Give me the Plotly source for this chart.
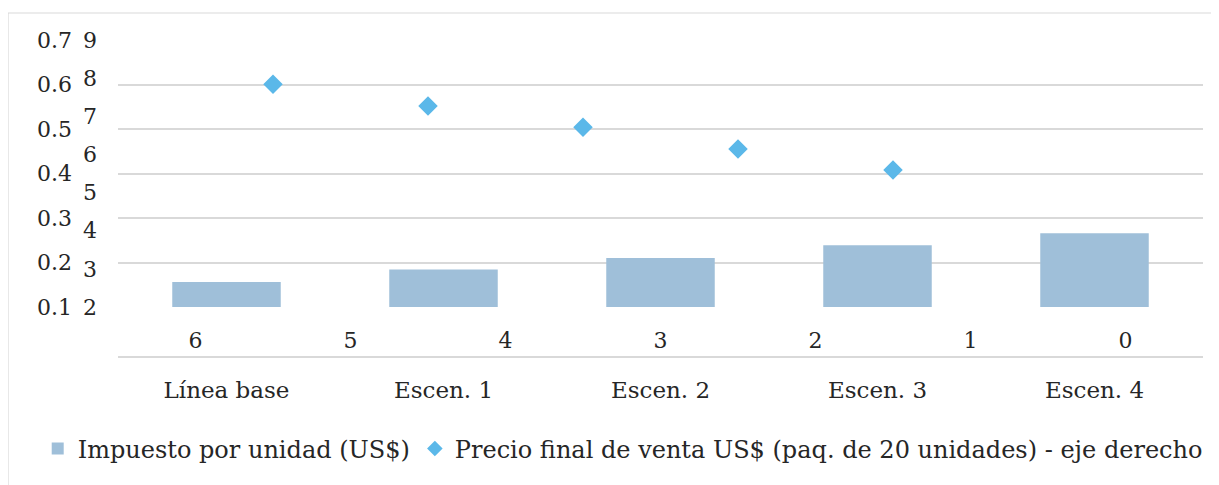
import plotly.graph_objects as go

categories = ["Línea base", "Escen. 1", "Escen. 2", "Escen. 3", "Escen. 4"]
impuesto = [0.156, 0.184, 0.210, 0.239, 0.266]
precio_x = [5.5, 4.5, 3.5, 2.5, 1.5]
precio = [7.84, 7.27, 6.71, 6.14, 5.59]
left_ticks = [0.1, 0.2, 0.3, 0.4, 0.5, 0.6, 0.7]
right_ticks = [2, 3, 4, 5, 6, 7, 8, 9]
sec_x_ticks = [0, 1, 2, 3, 4, 5, 6]

# page body has an 8px margin; figure is placed at (8, 8)
OFF = 8
W, H = 1219 - OFF, 485 - OFF
ML, MR, MT, MB = 118 - OFF, 16, 40 - OFF, 485 - 357
PH = H - MT - MB
FONT = "DejaVu Serif"
TXT = "#262626"
GRID = "#d9d9d9"

fig = go.Figure()
fig.add_trace(go.Bar(
    x=categories, y=impuesto, name="Impuesto por unidad (US$)",
    marker=dict(color="#9fbfd9", line=dict(width=0)),
    xaxis="x", yaxis="y",
))
fig.add_trace(go.Scatter(
    x=precio_x, y=precio, mode="markers",
    name="Precio final de venta US$ (paq. de 20 unidades) - eje derecho",
    marker=dict(symbol="diamond", size=15, color="#5bb8e9"),
    xaxis="x2", yaxis="y2",
))

ydom0 = 50 / PH

fig.update_layout(
    width=W, height=H,
    margin=dict(l=ML, r=MR, t=MT, b=MB),
    paper_bgcolor="white", plot_bgcolor="white",
    font=dict(family=FONT, size=23, color=TXT),
    bargap=0.5,
    showlegend=True,
    legend=dict(
        orientation="h", x=-0.074, y=-0.29, xanchor="left", yanchor="middle",
        font=dict(family=FONT, size=24, color=TXT),
        itemsizing="constant", bgcolor="rgba(0,0,0,0)",
        tracegroupgap=0,
    ),
    xaxis=dict(
        domain=[0, 1], anchor="free", position=0,
        showgrid=False, showline=True, linecolor=GRID, linewidth=1.5,
        ticks="", ticklabelstandoff=13, zeroline=False,
        tickfont=dict(family=FONT, size=23, color=TXT),
    ),
    xaxis2=dict(
        overlaying="x", anchor="y", side="bottom",
        range=[6.5, -0.5], tickvals=sec_x_ticks,
        showgrid=False, showline=False, zeroline=False,
        ticks="", ticklabelstandoff=18,
        tickfont=dict(family=FONT, size=22, color=TXT),
    ),
    yaxis=dict(
        domain=[ydom0, 1], range=[0.1, 0.7], tickvals=left_ticks,
        tickformat=".1f",
        showgrid=True, gridcolor=GRID, gridwidth=1.5,
        showline=False, zeroline=False, ticks="",
        ticklabelstandoff=45,
        tickfont=dict(family=FONT, size=22, color=TXT),
    ),
    yaxis2=dict(
        overlaying="y", side="left", anchor="x",
        range=[2, 9], tickvals=right_ticks,
        showgrid=False, showline=False, zeroline=False, ticks="",
        ticklabelstandoff=20,
        tickfont=dict(family=FONT, size=22, color=TXT),
    ),
)

# outer chart border (page pixel coordinates)
def px_x(px):
    return (px - OFF - ML) / (W - ML - MR)

def px_y(py):
    return (H - MB - (py - OFF)) / PH

fig.add_shape(type="rect", xref="paper", yref="paper",
              x0=px_x(8), x1=px_x(1230), y0=px_y(495), y1=px_y(13),
              line=dict(color=GRID, width=1.2), fillcolor="rgba(0,0,0,0)",
              layer="below")

fig.write_html("out.html")
